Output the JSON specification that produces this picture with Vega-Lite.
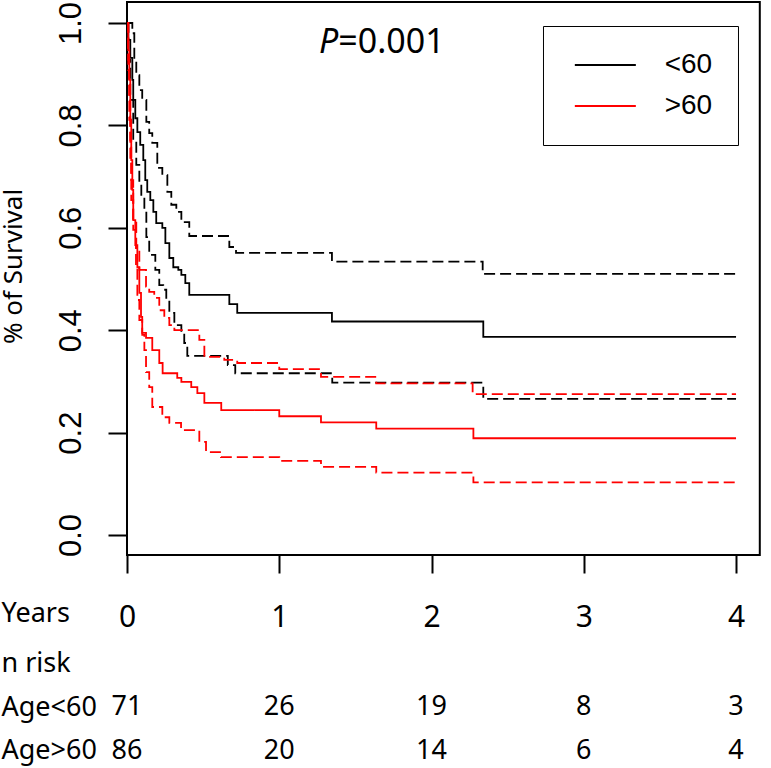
{
  "$schema": "https://vega.github.io/schema/vega-lite/v6.json",
  "padding": {"left": 0, "top": 0, "right": 0, "bottom": 8},
  "bounds": "flush",
  "spacing": 117,
  "config": {
    "axis": {"grid": false, "domain": false, "tickColor": "black", "labelColor": "black", "titleColor": "black", "labelFlush": false, "labelOverlap": false, "labelBound": false},
    "view": {"stroke": "black", "strokeWidth": 2},
    "text": {"color": "black"}
  },
  "datasets": {
    "km": [
      {"g": "<60", "k": "est", "t": 0, "s": 1.0},
      {"g": "<60", "k": "est", "t": 0.0085, "s": 0.967},
      {"g": "<60", "k": "est", "t": 0.0217, "s": 0.932},
      {"g": "<60", "k": "est", "t": 0.035, "s": 0.889},
      {"g": "<60", "k": "est", "t": 0.041, "s": 0.85},
      {"g": "<60", "k": "est", "t": 0.0545, "s": 0.814},
      {"g": "<60", "k": "est", "t": 0.068, "s": 0.787},
      {"g": "<60", "k": "est", "t": 0.087, "s": 0.762},
      {"g": "<60", "k": "est", "t": 0.107, "s": 0.732},
      {"g": "<60", "k": "est", "t": 0.12, "s": 0.693},
      {"g": "<60", "k": "est", "t": 0.133, "s": 0.67},
      {"g": "<60", "k": "est", "t": 0.153, "s": 0.654},
      {"g": "<60", "k": "est", "t": 0.173, "s": 0.631},
      {"g": "<60", "k": "est", "t": 0.192, "s": 0.609},
      {"g": "<60", "k": "est", "t": 0.232, "s": 0.6},
      {"g": "<60", "k": "est", "t": 0.252, "s": 0.57},
      {"g": "<60", "k": "est", "t": 0.278, "s": 0.541},
      {"g": "<60", "k": "est", "t": 0.304, "s": 0.523},
      {"g": "<60", "k": "est", "t": 0.337, "s": 0.518},
      {"g": "<60", "k": "est", "t": 0.357, "s": 0.508},
      {"g": "<60", "k": "est", "t": 0.383, "s": 0.492},
      {"g": "<60", "k": "est", "t": 0.409, "s": 0.469},
      {"g": "<60", "k": "est", "t": 0.672, "s": 0.451},
      {"g": "<60", "k": "est", "t": 0.724, "s": 0.434},
      {"g": "<60", "k": "est", "t": 1.346, "s": 0.417},
      {"g": "<60", "k": "est", "t": 2.34, "s": 0.387},
      {"g": "<60", "k": "est", "t": 4.0, "s": 0.387},

      {"g": "<60", "k": "upper", "t": 0, "s": 1.0},
      {"g": "<60", "k": "upper", "t": 0.035, "s": 0.98},
      {"g": "<60", "k": "upper", "t": 0.048, "s": 0.928},
      {"g": "<60", "k": "upper", "t": 0.061, "s": 0.898},
      {"g": "<60", "k": "upper", "t": 0.081, "s": 0.869},
      {"g": "<60", "k": "upper", "t": 0.1, "s": 0.85},
      {"g": "<60", "k": "upper", "t": 0.127, "s": 0.807},
      {"g": "<60", "k": "upper", "t": 0.146, "s": 0.785},
      {"g": "<60", "k": "upper", "t": 0.166, "s": 0.766},
      {"g": "<60", "k": "upper", "t": 0.199, "s": 0.717},
      {"g": "<60", "k": "upper", "t": 0.232, "s": 0.703},
      {"g": "<60", "k": "upper", "t": 0.265, "s": 0.67},
      {"g": "<60", "k": "upper", "t": 0.291, "s": 0.645},
      {"g": "<60", "k": "upper", "t": 0.324, "s": 0.631},
      {"g": "<60", "k": "upper", "t": 0.357, "s": 0.611},
      {"g": "<60", "k": "upper", "t": 0.409, "s": 0.584},
      {"g": "<60", "k": "upper", "t": 0.672, "s": 0.5625},
      {"g": "<60", "k": "upper", "t": 0.716, "s": 0.551},
      {"g": "<60", "k": "upper", "t": 1.346, "s": 0.534},
      {"g": "<60", "k": "upper", "t": 2.336, "s": 0.51},
      {"g": "<60", "k": "upper", "t": 4.0, "s": 0.51},

      {"g": "<60", "k": "lower", "t": 0, "s": 1.0},
      {"g": "<60", "k": "lower", "t": 0.0085, "s": 0.928},
      {"g": "<60", "k": "lower", "t": 0.0217, "s": 0.85},
      {"g": "<60", "k": "lower", "t": 0.041, "s": 0.771},
      {"g": "<60", "k": "lower", "t": 0.061, "s": 0.723},
      {"g": "<60", "k": "lower", "t": 0.081, "s": 0.6875},
      {"g": "<60", "k": "lower", "t": 0.094, "s": 0.66},
      {"g": "<60", "k": "lower", "t": 0.114, "s": 0.635},
      {"g": "<60", "k": "lower", "t": 0.127, "s": 0.582},
      {"g": "<60", "k": "lower", "t": 0.146, "s": 0.547},
      {"g": "<60", "k": "lower", "t": 0.186, "s": 0.518},
      {"g": "<60", "k": "lower", "t": 0.212, "s": 0.488},
      {"g": "<60", "k": "lower", "t": 0.238, "s": 0.479},
      {"g": "<60", "k": "lower", "t": 0.258, "s": 0.459},
      {"g": "<60", "k": "lower", "t": 0.278, "s": 0.434},
      {"g": "<60", "k": "lower", "t": 0.311, "s": 0.41},
      {"g": "<60", "k": "lower", "t": 0.357, "s": 0.395},
      {"g": "<60", "k": "lower", "t": 0.376, "s": 0.375},
      {"g": "<60", "k": "lower", "t": 0.396, "s": 0.35},
      {"g": "<60", "k": "lower", "t": 0.662, "s": 0.332},
      {"g": "<60", "k": "lower", "t": 0.711, "s": 0.316},
      {"g": "<60", "k": "lower", "t": 1.348, "s": 0.2975},
      {"g": "<60", "k": "lower", "t": 2.34, "s": 0.266},
      {"g": "<60", "k": "lower", "t": 4.0, "s": 0.266},

      {"g": ">60", "k": "est", "t": 0, "s": 1.0},
      {"g": ">60", "k": "est", "t": 0.0085, "s": 0.947},
      {"g": ">60", "k": "est", "t": 0.015, "s": 0.889},
      {"g": ">60", "k": "est", "t": 0.0217, "s": 0.811},
      {"g": ">60", "k": "est", "t": 0.028, "s": 0.732},
      {"g": ">60", "k": "est", "t": 0.035, "s": 0.674},
      {"g": ">60", "k": "est", "t": 0.041, "s": 0.615},
      {"g": ">60", "k": "est", "t": 0.0545, "s": 0.566},
      {"g": ">60", "k": "est", "t": 0.068, "s": 0.523},
      {"g": ">60", "k": "est", "t": 0.081, "s": 0.473},
      {"g": ">60", "k": "est", "t": 0.092, "s": 0.426},
      {"g": ">60", "k": "est", "t": 0.1, "s": 0.395},
      {"g": ">60", "k": "est", "t": 0.125, "s": 0.385},
      {"g": ">60", "k": "est", "t": 0.166, "s": 0.361},
      {"g": ">60", "k": "est", "t": 0.212, "s": 0.336},
      {"g": ">60", "k": "est", "t": 0.234, "s": 0.316},
      {"g": ">60", "k": "est", "t": 0.33, "s": 0.307},
      {"g": ">60", "k": "est", "t": 0.357, "s": 0.299},
      {"g": ">60", "k": "est", "t": 0.422, "s": 0.289},
      {"g": ">60", "k": "est", "t": 0.462, "s": 0.277},
      {"g": ">60", "k": "est", "t": 0.508, "s": 0.258},
      {"g": ">60", "k": "est", "t": 0.619, "s": 0.244},
      {"g": ">60", "k": "est", "t": 1.0, "s": 0.232},
      {"g": ">60", "k": "est", "t": 1.274, "s": 0.22},
      {"g": ">60", "k": "est", "t": 1.637, "s": 0.208},
      {"g": ">60", "k": "est", "t": 2.275, "s": 0.189},
      {"g": ">60", "k": "est", "t": 4.0, "s": 0.189},

      {"g": ">60", "k": "upper", "t": 0, "s": 1.0},
      {"g": ">60", "k": "upper", "t": 0.0085, "s": 0.928},
      {"g": ">60", "k": "upper", "t": 0.015, "s": 0.85},
      {"g": ">60", "k": "upper", "t": 0.0217, "s": 0.771},
      {"g": ">60", "k": "upper", "t": 0.028, "s": 0.693},
      {"g": ">60", "k": "upper", "t": 0.041, "s": 0.615},
      {"g": ">60", "k": "upper", "t": 0.061, "s": 0.557},
      {"g": ">60", "k": "upper", "t": 0.081, "s": 0.518},
      {"g": ">60", "k": "upper", "t": 0.125, "s": 0.485},
      {"g": ">60", "k": "upper", "t": 0.146, "s": 0.475},
      {"g": ">60", "k": "upper", "t": 0.179, "s": 0.463},
      {"g": ">60", "k": "upper", "t": 0.212, "s": 0.439},
      {"g": ">60", "k": "upper", "t": 0.245, "s": 0.424},
      {"g": ">60", "k": "upper", "t": 0.278, "s": 0.41},
      {"g": ">60", "k": "upper", "t": 0.311, "s": 0.4},
      {"g": ">60", "k": "upper", "t": 0.475, "s": 0.381},
      {"g": ">60", "k": "upper", "t": 0.508, "s": 0.348},
      {"g": ">60", "k": "upper", "t": 0.639, "s": 0.342},
      {"g": ">60", "k": "upper", "t": 0.724, "s": 0.336},
      {"g": ">60", "k": "upper", "t": 1.0, "s": 0.324},
      {"g": ">60", "k": "upper", "t": 1.274, "s": 0.309},
      {"g": ">60", "k": "upper", "t": 1.637, "s": 0.296},
      {"g": ">60", "k": "upper", "t": 2.27, "s": 0.275},
      {"g": ">60", "k": "upper", "t": 4.0, "s": 0.275},

      {"g": ">60", "k": "lower", "t": 0, "s": 1.0},
      {"g": ">60", "k": "lower", "t": 0.0085, "s": 0.908},
      {"g": ">60", "k": "lower", "t": 0.015, "s": 0.811},
      {"g": ">60", "k": "lower", "t": 0.0217, "s": 0.732},
      {"g": ">60", "k": "lower", "t": 0.028, "s": 0.654},
      {"g": ">60", "k": "lower", "t": 0.041, "s": 0.596},
      {"g": ">60", "k": "lower", "t": 0.059, "s": 0.523},
      {"g": ">60", "k": "lower", "t": 0.068, "s": 0.459},
      {"g": ">60", "k": "lower", "t": 0.081, "s": 0.42},
      {"g": ">60", "k": "lower", "t": 0.1, "s": 0.391},
      {"g": ">60", "k": "lower", "t": 0.114, "s": 0.361},
      {"g": ">60", "k": "lower", "t": 0.125, "s": 0.318},
      {"g": ">60", "k": "lower", "t": 0.146, "s": 0.289},
      {"g": ">60", "k": "lower", "t": 0.166, "s": 0.25},
      {"g": ">60", "k": "lower", "t": 0.232, "s": 0.23},
      {"g": ">60", "k": "lower", "t": 0.278, "s": 0.219},
      {"g": ">60", "k": "lower", "t": 0.355, "s": 0.205},
      {"g": ">60", "k": "lower", "t": 0.475, "s": 0.182},
      {"g": ">60", "k": "lower", "t": 0.519, "s": 0.162},
      {"g": ">60", "k": "lower", "t": 0.617, "s": 0.152},
      {"g": ">60", "k": "lower", "t": 1.0, "s": 0.145},
      {"g": ">60", "k": "lower", "t": 1.274, "s": 0.133},
      {"g": ">60", "k": "lower", "t": 1.637, "s": 0.122},
      {"g": ">60", "k": "lower", "t": 2.275, "s": 0.103},
      {"g": ">60", "k": "lower", "t": 4.0, "s": 0.103}
    ],
    "risk": [
      {"row": "Age<60", "t": 0, "n": 71},
      {"row": "Age<60", "t": 1, "n": 26},
      {"row": "Age<60", "t": 2, "n": 19},
      {"row": "Age<60", "t": 3, "n": 8},
      {"row": "Age<60", "t": 4, "n": 3},
      {"row": "Age>60", "t": 0, "n": 86},
      {"row": "Age>60", "t": 1, "n": 20},
      {"row": "Age>60", "t": 2, "n": 14},
      {"row": "Age>60", "t": 3, "n": 6},
      {"row": "Age>60", "t": 4, "n": 4}
    ]
  },
  "vconcat": [
    {
      "width": 632.8,
      "height": 553,
      "layer": [
        {
          "data": {"name": "km"},
          "mark": {"type": "line", "interpolate": "step-after", "strokeWidth": 1.8},
          "encoding": {
            "x": {
              "field": "t", "type": "quantitative",
              "scale": {"domain": [0, 4.156], "nice": false, "zero": false},
              "axis": {
                "values": [0, 1, 2, 3, 4], "format": "d",
                "tickSize": 18, "tickWidth": 2,
                "labelFont": "Noto Sans", "labelFontSize": 30, "labelBaseline": "alphabetic", "labelPadding": 54,
                "title": "Years", "titleFont": "Noto Sans", "titleFontSize": 27, "titleFontWeight": "normal",
                "titleX": -126, "titleY": 67, "titleAlign": "left", "titleBaseline": "alphabetic", "titleAngle": 0
              }
            },
            "y": {
              "field": "s", "type": "quantitative",
              "scale": {"domain": [-0.039, 1.041], "nice": false, "zero": false},
              "axis": {
                "values": [0, 0.2, 0.4, 0.6, 0.8, 1.0], "format": ".1f",
                "tickSize": 19, "tickWidth": 2,
                "labelFont": "Liberation Sans", "labelFontSize": 31, "labelAngle": 270,
                "labelAlign": "center", "labelBaseline": "alphabetic", "labelPadding": 27,
                "title": "% of Survival", "titleFont": "Noto Sans", "titleFontSize": 26, "titleFontWeight": "normal",
                "titleAngle": 270, "titleX": -113, "titleY": 264, "titleAlign": "center", "titleBaseline": "middle"
              }
            },
            "color": {
              "field": "g", "type": "nominal",
              "scale": {"domain": ["<60", ">60"], "range": ["#000000", "#ff0000"]},
              "legend": {
                "title": null, "orient": "none", "legendX": 416, "legendY": 24,
                "strokeColor": "black", "fillColor": "white", "padding": 25, "cornerRadius": 0,
                "symbolType": "M-0.705,0H5.295", "symbolSize": 413.6, "symbolStrokeWidth": 2,
                "labelFont": "Liberation Sans", "labelFontSize": 28, "labelOffset": 68.7, "labelColor": "black",
                "rowPadding": 13
              }
            },
            "strokeDash": {
              "field": "k", "type": "nominal",
              "scale": {"domain": ["est", "upper", "lower"], "range": [[1, 0], [11, 5], [11, 5]]},
              "legend": null
            }
          }
        },
        {
          "data": {"values": [{}]},
          "mark": {"type": "text", "text": "P", "font": "Noto Sans", "fontSize": 34, "fontStyle": "italic", "align": "right", "baseline": "alphabetic"},
          "encoding": {"x": {"datum": 1.388}, "y": {"datum": 0.941}}
        },
        {
          "data": {"values": [{}]},
          "mark": {"type": "text", "text": "=0.001", "font": "Noto Sans", "fontSize": 34, "align": "left", "baseline": "alphabetic"},
          "encoding": {"x": {"datum": 1.388}, "y": {"datum": 0.941}}
        }
      ]
    },
    {
      "width": 632.8,
      "height": 87,
      "view": {"stroke": null},
      "data": {"name": "risk"},
      "mark": {"type": "text", "font": "Noto Sans", "fontSize": 27, "align": "center", "baseline": "alphabetic"},
      "encoding": {
        "x": {"field": "t", "type": "quantitative", "scale": {"domain": [0, 4.156], "nice": false, "zero": false}, "axis": null},
        "y": {
          "field": "row", "type": "nominal",
          "scale": {"type": "point", "domain": ["n risk", "Age<60", "Age>60"], "padding": 0},
          "axis": {
            "title": null, "ticks": false, "tickSize": 0, "domain": false,
            "labelAlign": "left", "labelBaseline": "alphabetic", "labelPadding": 126,
            "labelFont": "Noto Sans", "labelFontSize": 27
          }
        },
        "text": {"field": "n", "type": "quantitative", "format": "d"}
      }
    }
  ]
}
